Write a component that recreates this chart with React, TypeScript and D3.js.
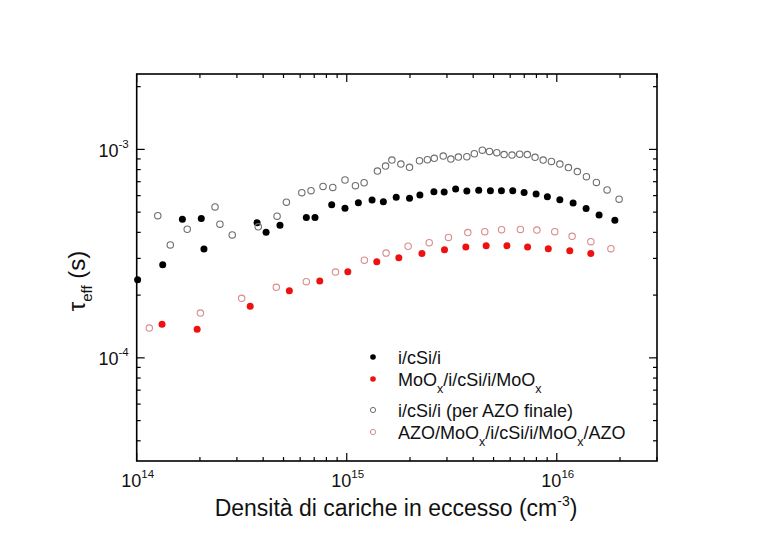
import React from "react";
import * as d3 from "d3";

// i/cSi/i (filled black)
const blackX = [1.01e14, 1.33e14, 1.65e14, 2.03e14, 2.09e14, 3.74e14, 4.13e14, 4.81e14, 6.42e14, 7.06e14, 8.48e14, 9.81e14, 1.136e15, 1.32e15, 1.494e15, 1.72e15, 1.99e15, 2.23e15, 2.6e15, 2.91e15, 3.3e15, 3.73e15, 4.25e15, 4.83e15, 5.45e15, 6.17e15, 6.99e15, 7.97e15, 9.02e15, 1.034e16, 1.196e16, 1.379e16, 1.59e16, 1.89e16];
const blackY = [2.37e-4, 2.8e-4, 4.62e-4, 4.66e-4, 3.33e-4, 4.45e-4, 4.01e-4, 4.33e-4, 4.71e-4, 4.71e-4, 5.42e-4, 5.22e-4, 5.55e-4, 5.72e-4, 5.61e-4, 5.89e-4, 5.83e-4, 6.04e-4, 6.27e-4, 6.25e-4, 6.46e-4, 6.32e-4, 6.37e-4, 6.34e-4, 6.34e-4, 6.34e-4, 6.22e-4, 6.11e-4, 5.93e-4, 5.74e-4, 5.53e-4, 5.2e-4, 4.85e-4, 4.57e-4];

// MoOx/i/cSi/i/MoOx (filled red)
const redX = [1.32e14, 1.94e14, 3.47e14, 5.33e14, 7.44e14, 1.012e15, 1.39e15, 1.77e15, 2.28e15, 2.92e15, 3.69e15, 4.61e15, 5.79e15, 7.26e15, 9.11e15, 1.153e16, 1.452e16];
const redY = [1.45e-4, 1.37e-4, 1.77e-4, 2.1e-4, 2.34e-4, 2.59e-4, 2.89e-4, 3.02e-4, 3.17e-4, 3.3e-4, 3.4e-4, 3.45e-4, 3.45e-4, 3.4e-4, 3.34e-4, 3.26e-4, 3.17e-4];

// i/cSi/i (per AZO finale) (open gray)
const grayX = [1.26e14, 1.445e14, 1.74e14, 2.36e14, 2.49e14, 2.85e14, 3.79e14, 4.66e14, 5.16e14, 6.11e14, 6.76e14, 7.71e14, 8.58e14, 9.81e14, 1.1e15, 1.21e15, 1.4e15, 1.53e15, 1.64e15, 1.81e15, 1.99e15, 2.22e15, 2.42e15, 2.61e15, 2.88e15, 3.13e15, 3.4e15, 3.73e15, 4.05e15, 4.42e15, 4.78e15, 5.18e15, 5.61e15, 6.12e15, 6.66e15, 7.24e15, 7.88e15, 8.61e15, 9.43e15, 1.034e16, 1.136e16, 1.253e16, 1.384e16, 1.544e16, 1.736e16, 1.98e16];
const grayY = [4.81e-4, 3.48e-4, 4.14e-4, 5.3e-4, 4.38e-4, 3.89e-4, 4.25e-4, 4.78e-4, 5.58e-4, 6.2e-4, 6.34e-4, 6.64e-4, 6.57e-4, 7.13e-4, 6.7e-4, 6.92e-4, 7.87e-4, 8.32e-4, 8.89e-4, 8.5e-4, 8.2e-4, 8.82e-4, 8.92e-4, 9.06e-4, 9.29e-4, 8.99e-4, 9.19e-4, 9.22e-4, 9.53e-4, 9.92e-4, 9.78e-4, 9.65e-4, 9.44e-4, 9.39e-4, 9.49e-4, 9.44e-4, 9.16e-4, 8.89e-4, 8.76e-4, 8.5e-4, 8.18e-4, 7.83e-4, 7.4e-4, 6.94e-4, 6.39e-4, 5.77e-4];

// AZO/MoOx/i/cSi/i/MoOx/AZO (open pink)
const pinkX = [1.148e14, 2.01e14, 3.16e14, 4.62e14, 6.42e14, 8.84e14, 1.213e15, 1.539e15, 1.96e15, 2.47e15, 3.05e15, 3.77e15, 4.54e15, 5.46e15, 6.71e15, 8.04e15, 9.78e15, 1.183e16, 1.453e16, 1.81e16];
const pinkY = [1.39e-4, 1.64e-4, 1.93e-4, 2.18e-4, 2.32e-4, 2.58e-4, 2.94e-4, 3.18e-4, 3.43e-4, 3.57e-4, 3.78e-4, 3.99e-4, 4.03e-4, 4.12e-4, 4.13e-4, 4.1e-4, 4.03e-4, 3.83e-4, 3.61e-4, 3.34e-4];

const xDomain = [1e14, 3e16];
const yDomain = [3.2e-5, 2.3e-3];
const xMajorTicks = [1e14, 1e15, 1e16];
const yMajorTicks = [1e-4, 1e-3];

type Seg = { t: string; sub?: boolean };
const legendLabels: Seg[][] = [
  [{ t: "i/cSi/i" }],
  [{ t: "MoO" }, { t: "x", sub: true }, { t: "/i/cSi/i/MoO" }, { t: "x", sub: true }],
  [{ t: "i/cSi/i (per AZO finale)" }],
  [{ t: "AZO/MoO" }, { t: "x", sub: true }, { t: "/i/cSi/i/MoO" }, { t: "x", sub: true }, { t: "/AZO" }],
];

const L = 136.7, R = 657, T = 74, B = 461;
const FONT = "'Liberation Sans', Arial, sans-serif";

const series = [
  { xs: blackX, ys: blackY, fill: "#000000", stroke: "#000000", open: false },
  { xs: redX, ys: redY, fill: "#ee1111", stroke: "#ee1111", open: false },
  { xs: grayX, ys: grayY, fill: "none", stroke: "#6e6e6e", open: true },
  { xs: pinkX, ys: pinkY, fill: "none", stroke: "#d98c8c", open: true },
];

function exp10(v: number) {
  return Math.round(Math.log10(v));
}

export default function App() {
  const x = d3.scaleLog().domain(xDomain).range([L, R]);
  const y = d3.scaleLog().domain(yDomain).range([B, T]);
  const xt = x.ticks();
  const yt = y.ticks();
  const isMajor = (v: number) => Math.abs(v / Math.pow(10, Math.floor(Math.log10(v) + 1e-9)) - 1) < 1e-6;

  const legendYs = [357, 379, 410, 432];

  return (
    <svg width={759} height={541} style={{ position: "absolute", left: 0, top: 0, background: "#fff" }} fontFamily={FONT}>
      <rect x={0} y={0} width={759} height={541} fill="#fff" />
      {xt.map((v, i) => {
        const len = isMajor(v) ? 8 : 4;
        const px = x(v);
        return (
          <g key={"xt" + i} stroke="#000" strokeWidth={1.2}>
            <line x1={px} x2={px} y1={B} y2={B - len} />
            <line x1={px} x2={px} y1={T} y2={T + len} />
          </g>
        );
      })}
      {yt.map((v, i) => {
        const len = isMajor(v) ? 8 : 4;
        const py = y(v);
        return (
          <g key={"yt" + i} stroke="#000" strokeWidth={1.2}>
            <line x1={L} x2={L + len} y1={py} y2={py} />
            <line x1={R} x2={R - len} y1={py} y2={py} />
          </g>
        );
      })}
      <rect x={L} y={T} width={R - L} height={B - T} fill="none" stroke="#000" strokeWidth={1.6} />
      {xMajorTicks.map((v, i) => (
        <text key={"xl" + i} x={x(v) + 1} y={487} textAnchor="middle" fontSize={18} fill="#111">
          10<tspan dy={-9} fontSize={11.5}>{exp10(v)}</tspan>
        </text>
      ))}
      {yMajorTicks.map((v, i) => (
        <text key={"yl" + i} x={L - 8} y={y(v) + 7.5} textAnchor="end" fontSize={18} fill="#111">
          10<tspan dy={-9} fontSize={11.5}>{exp10(v)}</tspan>
        </text>
      ))}
      <text x={396} y={516} textAnchor="middle" fontSize={23} fill="#111">
        Densità di cariche in eccesso (cm<tspan dy={-10} fontSize={14}>-3</tspan><tspan dy={10}>)</tspan>
      </text>
      <text transform={`translate(85, 281) rotate(-90)`} textAnchor="middle" fontSize={24} fill="#111">
        τ<tspan dy={7} fontSize={15}>eff</tspan><tspan dy={-7}> (s)</tspan>
      </text>
      {series.map((s, si) => (
        <g key={"s" + si}>
          {s.xs.map((xv, i) => (
            <circle key={i} cx={x(xv)} cy={y(s.ys[i])} r={s.open ? 3.2 : 3.5} fill={s.fill} stroke={s.stroke} strokeWidth={s.open ? 1.1 : 0} />
          ))}
        </g>
      ))}
      {legendLabels.map((segs, i) => {
        const s = series[i];
        const ly = legendYs[i];
        return (
          <g key={"lg" + i}>
            <circle cx={373} cy={ly} r={s.open ? 2.6 : 2.8} fill={s.fill} stroke={s.stroke} strokeWidth={s.open ? 1 : 0} />
            <text x={398} y={ly + 6.5} fontSize={18} fill="#111">
              {segs.map((g, j) =>
                g.sub ? (
                  <tspan key={j} dy={7} fontSize={12.5}>{g.t}</tspan>
                ) : (
                  <tspan key={j} dy={j > 0 && segs[j - 1].sub ? -7 : 0}>{g.t}</tspan>
                )
              )}
            </text>
          </g>
        );
      })}
    </svg>
  );
}
